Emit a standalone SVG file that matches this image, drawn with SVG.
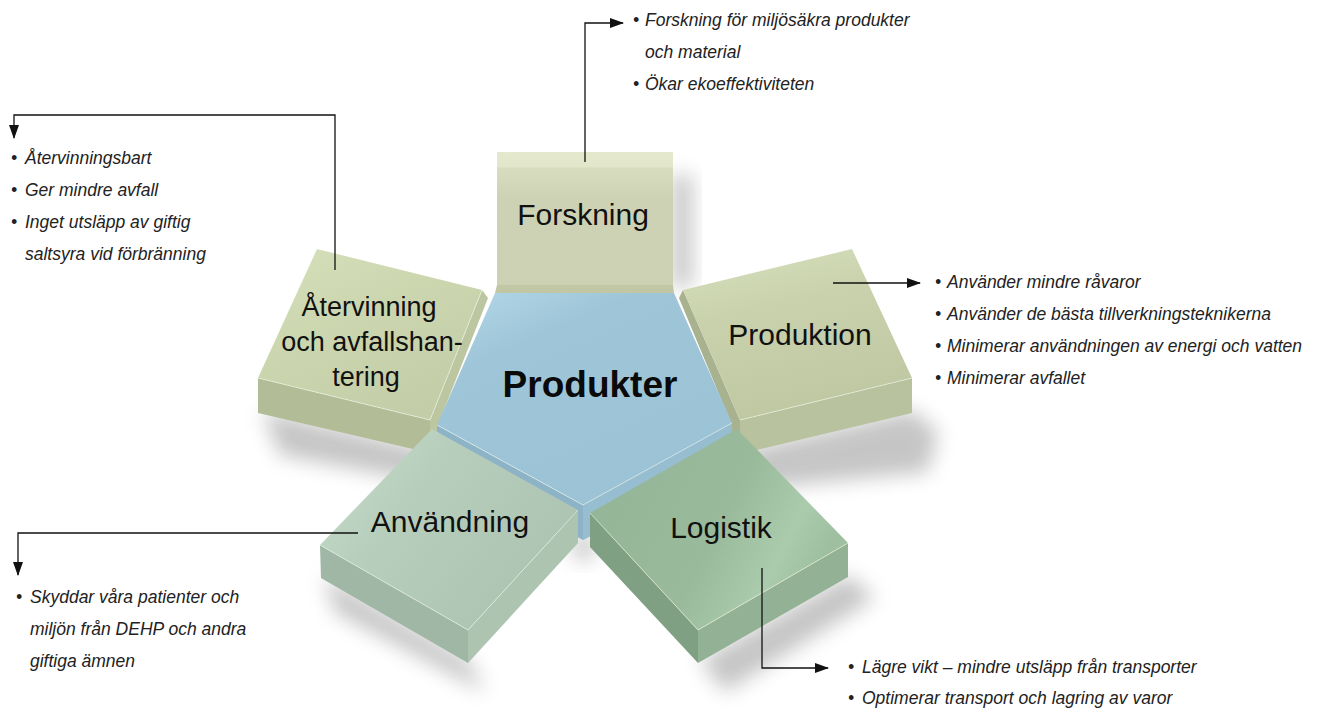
<svg xmlns="http://www.w3.org/2000/svg" width="1333" height="711" viewBox="0 0 1333 711">
<defs>
<style>
.lbl{font-family:"Liberation Sans",Arial,Helvetica,sans-serif;font-size:30px;fill:#111;text-anchor:middle}
.big{font-family:"Liberation Sans",Arial,Helvetica,sans-serif;font-size:37px;font-weight:bold;fill:#0a0a0a;text-anchor:middle}
.txt{font-family:"Liberation Sans",Arial,Helvetica,sans-serif;font-size:17.5px;font-style:italic;fill:#222}
.con{fill:none;stroke:#111;stroke-width:1.3}
.edge{stroke:#f4f8ec;stroke-width:0.8;stroke-opacity:0.7}
.shadow{fill:#8c8c8c;opacity:0.5;filter:url(#blur)}
</style>
<filter id="blur" x="-50%" y="-50%" width="200%" height="200%"><feGaussianBlur stdDeviation="10"/></filter>
<marker id="arr" markerWidth="14" markerHeight="10" refX="13" refY="5" orient="auto" markerUnits="userSpaceOnUse"><path d="M0,0 L14,5 L0,10 Z" fill="#111"/></marker>
<linearGradient id="gFors" x1="0" y1="0" x2="0" y2="1"><stop offset="0" stop-color="#e4e9ce"/><stop offset="0.11" stop-color="#e2e7cb"/><stop offset="0.12" stop-color="#d9ddc0"/><stop offset="0.35" stop-color="#ced2b4"/><stop offset="1" stop-color="#cdd1b3"/></linearGradient>
<linearGradient id="gAter" x1="0" y1="0" x2="0.6" y2="1"><stop offset="0" stop-color="#d6e1bb"/><stop offset="0.45" stop-color="#ccd7b0"/><stop offset="1" stop-color="#c3cda7"/></linearGradient>
<linearGradient id="gProd" x1="0" y1="0" x2="0.3" y2="1"><stop offset="0" stop-color="#d8e1bd"/><stop offset="0.4" stop-color="#c9d2ad"/><stop offset="1" stop-color="#bfc8a3"/></linearGradient>
<linearGradient id="gPent" x1="0" y1="0" x2="0.6" y2="1"><stop offset="0" stop-color="#b3d8e9"/><stop offset="0.3" stop-color="#9fc6d8"/><stop offset="1" stop-color="#9bc3d5"/></linearGradient>
<linearGradient id="gAnv" x1="0" y1="0" x2="1" y2="0.6"><stop offset="0" stop-color="#c9dfce"/><stop offset="0.4" stop-color="#b8cebc"/><stop offset="1" stop-color="#adc3b1"/></linearGradient>
<linearGradient id="gLog" x1="0" y1="0" x2="1" y2="0.4"><stop offset="0" stop-color="#93b496"/><stop offset="0.6" stop-color="#9aba9c"/><stop offset="0.85" stop-color="#abcbad"/><stop offset="1" stop-color="#9fbfa1"/></linearGradient>
</defs>
<rect width="1333" height="711" fill="#ffffff"/>

<g id="shadows">
<rect class="shadow" x="672" y="175" width="20" height="112"/>
<polygon class="shadow" points="262,410 430,450 425,482 280,455"/>
<polygon class="shadow" points="742,450 912,410 938,432 928,472 760,488"/>
<polygon class="shadow" points="324,575 468,660 485,692 335,612"/>
<polygon class="shadow" points="700,660 848,575 875,598 725,692"/>
<polygon class="shadow" points="572,535 595,535 592,560 575,560"/>
</g>

<g id="node-atervinning">
<polygon points="482,290 430,420 430,453 438,440 438,425 488,298" fill="#bcc6a0"/>
<polygon points="258,378 430,420 430,453 258,413" fill="#b2bc97"/>
<polygon points="317,249 482,290 430,420 258,378" fill="url(#gAter)"/>
<polyline class="edge" points="258,378 430,420 482,290" fill="none"/>
<text class="lbl" style="font-size:27px" x="369" y="316">Återvinning</text>
<text class="lbl" style="font-size:27px" x="372" y="351">och avfallshan-</text>
<text class="lbl" style="font-size:27px" x="366" y="386">tering</text>
</g>

<g id="node-produktion">
<polygon points="683,290 740,420 740,454 731,440 731,423 679,298" fill="#a9b28f"/>
<polygon points="740,420 912,378 912,413 740,454" fill="#b9c29e"/>
<polygon points="683,290 852,249 912,378 740,420" fill="url(#gProd)"/>
<polyline class="edge" points="740,420 912,378" fill="none"/>
<text class="lbl" x="800" y="345">Produktion</text>
</g>

<g id="node-forskning">
<polygon points="497,285 673,285 674,293 495,293" fill="#c1c6a5"/>
<rect x="497" y="152" width="176" height="133" fill="url(#gFors)"/>
<text class="lbl" x="583" y="225">Forskning</text>
</g>

<g id="node-produkter">
<polygon points="437,425 583,505 732,423 732,458 583,540 437,460" fill="#8db3c7"/>
<polygon points="583,505 732,423 732,458 583,540" fill="#97bdd0"/>
<polygon points="495,293 674,293 732,423 583,505 437,425" fill="url(#gPent)"/>
<polyline class="edge" points="437,425 583,505 732,423" fill="none"/>
<text class="big" x="590" y="397">Produkter</text>
</g>

<g id="node-anvandning">
<polygon points="320,545 468,630 468,663 321,578" fill="#a0b7a5"/>
<polygon points="468,630 578,510 578,543 468,663" fill="#adc4b1"/>
<polygon points="432,429 578,510 468,630 320,545" fill="url(#gAnv)"/>
<polyline class="edge" points="320,545 468,630 578,510" fill="none"/>
<text class="lbl" x="450" y="532">Användning</text>
</g>

<g id="node-logistik">
<polygon points="590,513 698,630 698,663 590,547" fill="#80a083"/>
<polygon points="698,630 848,543 848,577 698,663" fill="#93b295"/>
<polygon points="590,513 737,429 848,543 698,630" fill="url(#gLog)"/>
<polyline class="edge" points="590,513 698,630 848,543" fill="none"/>
<text class="lbl" x="721" y="538">Logistik</text>
</g>

<g id="connectors">
<path class="con" d="M585,162 V23 H623" marker-end="url(#arr)"/>
<path class="con" d="M335,270 V115 H14 V138" marker-end="url(#arr)"/>
<path class="con" d="M833,283 H920" marker-end="url(#arr)"/>
<path class="con" d="M358,533 H18 V575" marker-end="url(#arr)"/>
<path class="con" d="M762,568 V668 H828" marker-end="url(#arr)"/>
</g>

<g id="notes">
<text class="txt" x="633" y="26">•</text><text class="txt" x="645" y="26">Forskning för miljösäkra produkter</text>
<text class="txt" x="645" y="58">och material</text>
<text class="txt" x="633" y="90">•</text><text class="txt" x="645" y="90">Ökar ekoeffektiviteten</text>

<text class="txt" x="11" y="164">•</text><text class="txt" x="25" y="164">Återvinningsbart</text>
<text class="txt" x="11" y="196">•</text><text class="txt" x="25" y="196">Ger mindre avfall</text>
<text class="txt" x="11" y="228">•</text><text class="txt" x="25" y="228">Inget utsläpp av giftig</text>
<text class="txt" x="25" y="260">saltsyra vid förbränning</text>

<text class="txt" x="935" y="288">•</text><text class="txt" x="947" y="288">Använder mindre råvaror</text>
<text class="txt" x="935" y="320">•</text><text class="txt" x="947" y="320">Använder de bästa tillverkningsteknikerna</text>
<text class="txt" x="935" y="352">•</text><text class="txt" x="947" y="352">Minimerar användningen av energi och vatten</text>
<text class="txt" x="935" y="384">•</text><text class="txt" x="947" y="384">Minimerar avfallet</text>

<text class="txt" x="16" y="603">•</text><text class="txt" x="30" y="603">Skyddar våra patienter och</text>
<text class="txt" x="30" y="635">miljön från DEHP och andra</text>
<text class="txt" x="30" y="667">giftiga ämnen</text>

<text class="txt" x="848" y="673">•</text><text class="txt" x="862" y="673">Lägre vikt – mindre utsläpp från transporter</text>
<text class="txt" x="848" y="704">•</text><text class="txt" x="862" y="704">Optimerar transport och lagring av varor</text>
</g>
</svg>
